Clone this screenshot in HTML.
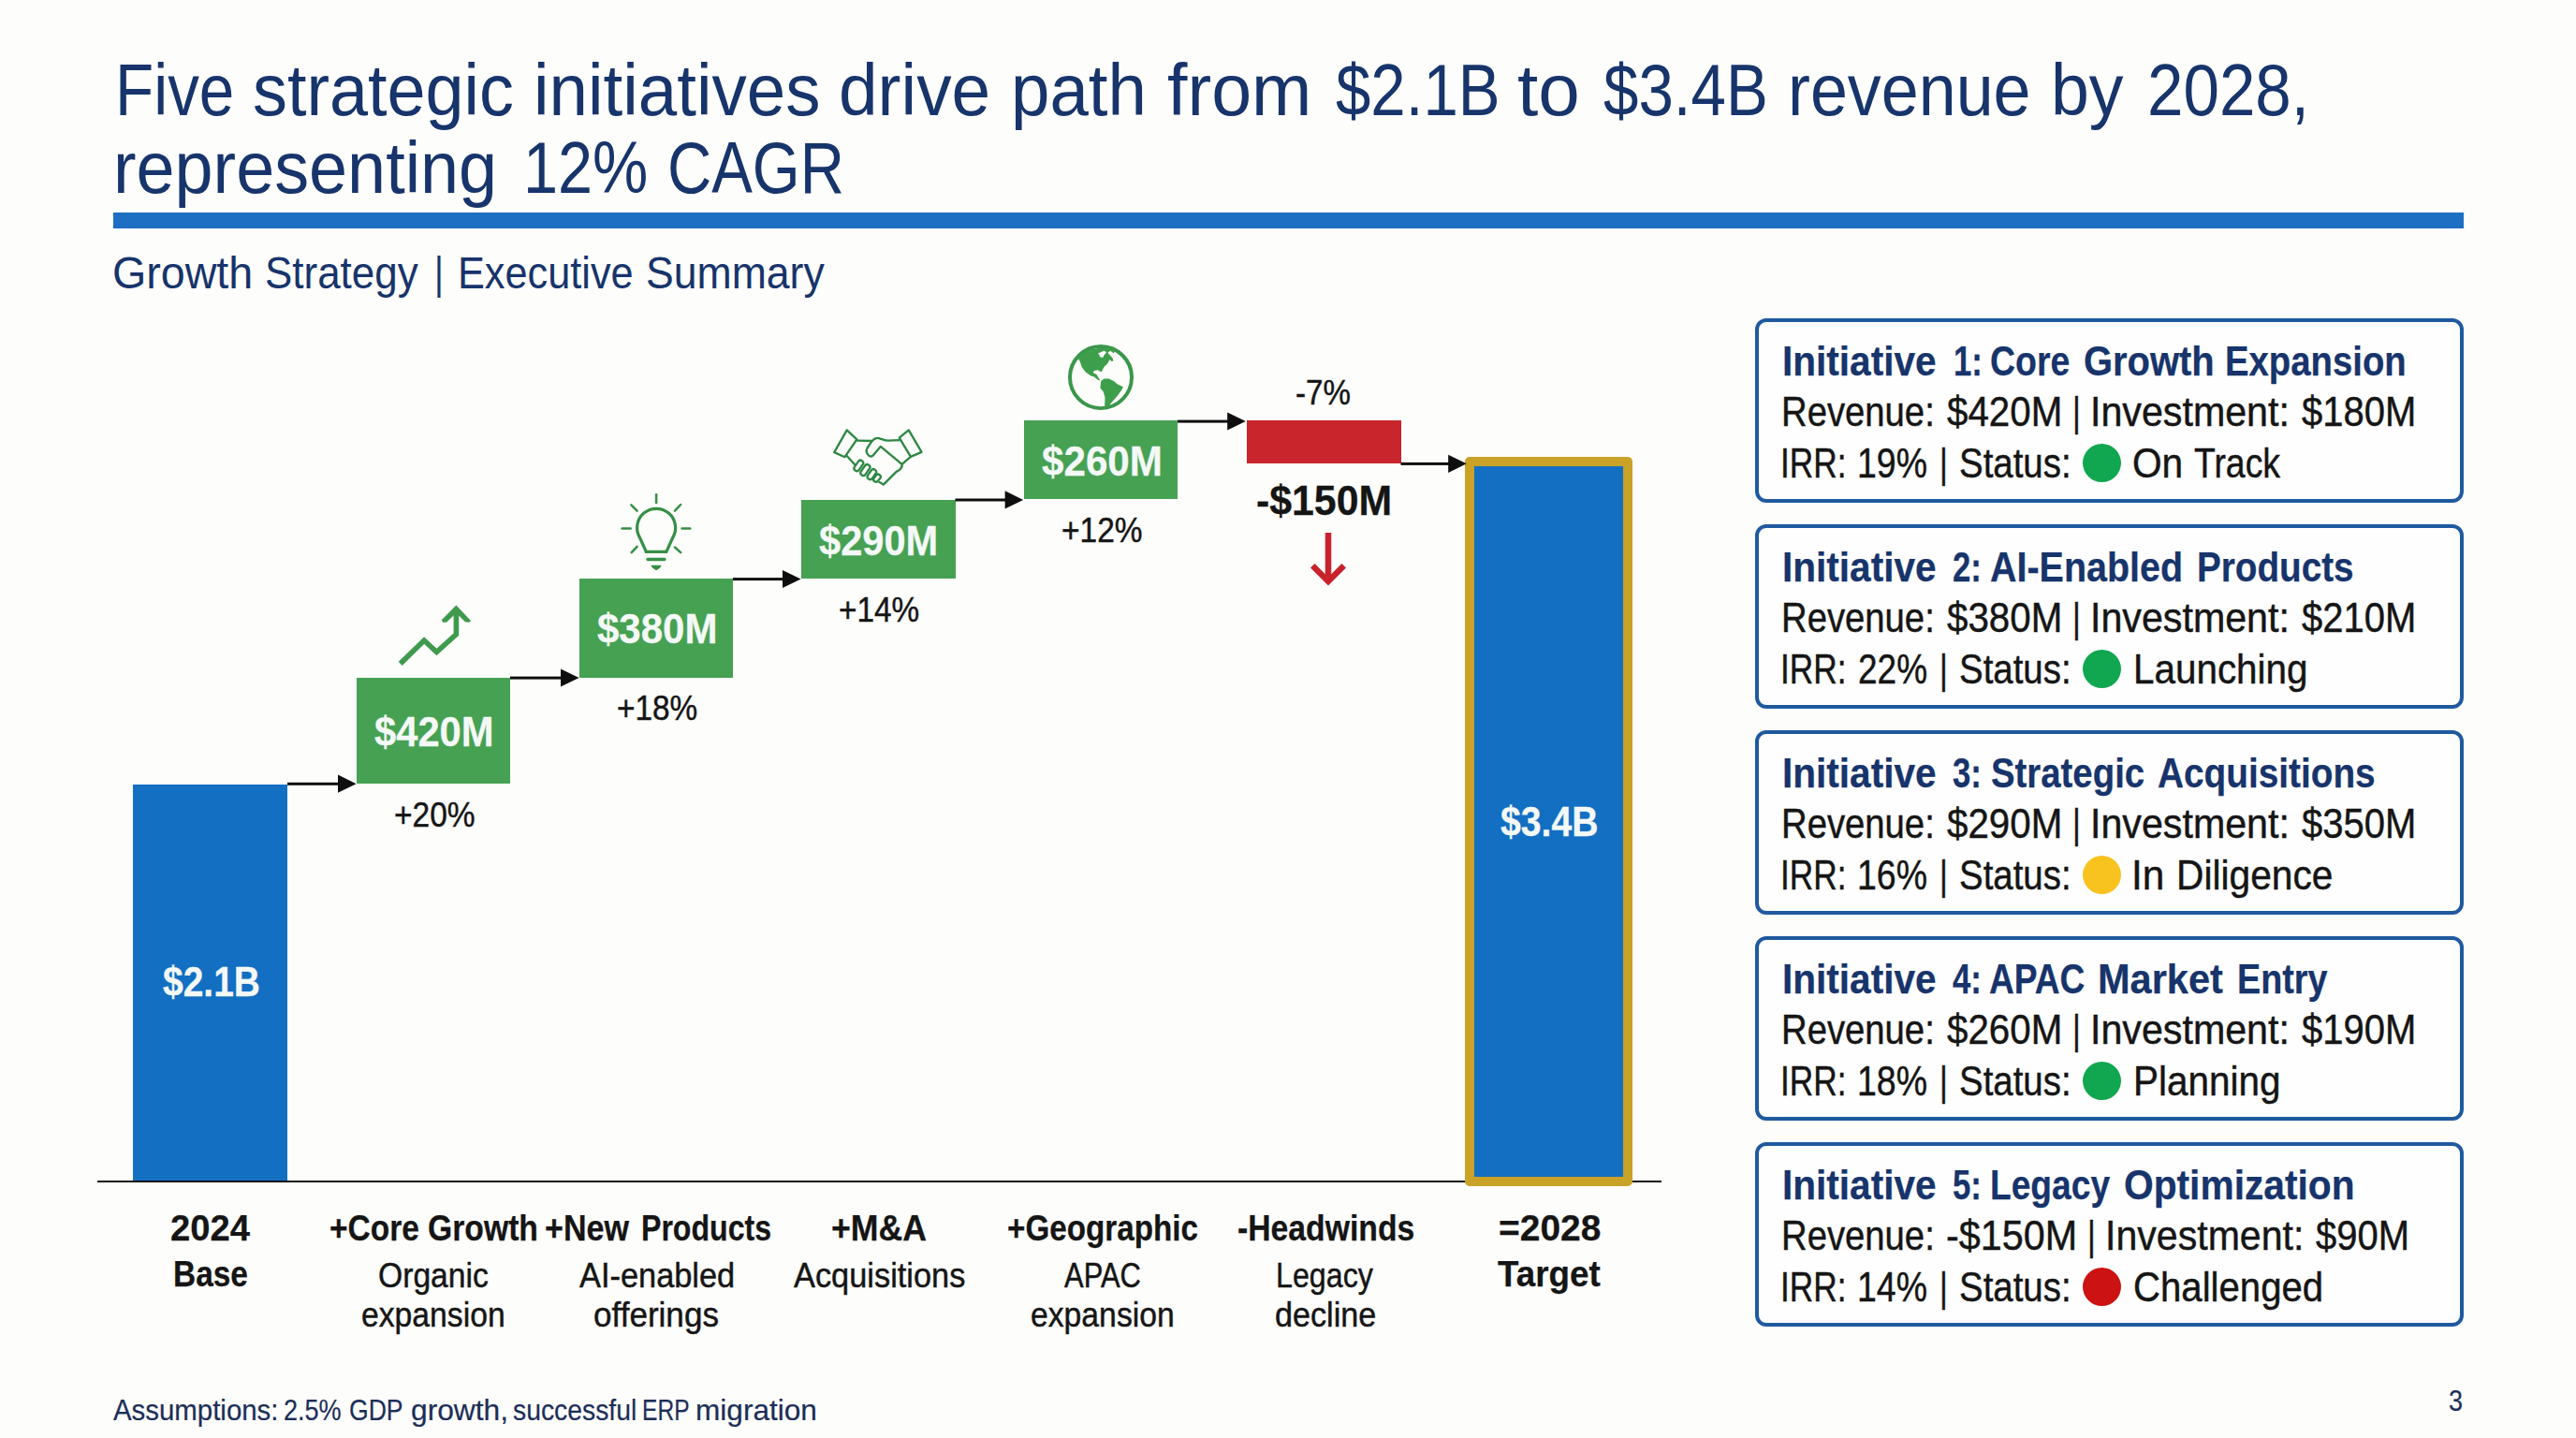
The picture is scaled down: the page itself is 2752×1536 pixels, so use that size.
<!DOCTYPE html>
<html lang="en">
<head>
<meta charset="utf-8">
<title>Growth Strategy | Executive Summary</title>
<style>
html,body{margin:0;padding:0;}
h1,h2,h3,p{margin:0;padding:0;font:inherit;}
body{width:2752px;height:1536px;overflow:hidden;background:#fdfdfb;font-family:"Liberation Sans",Arial,sans-serif;}
#slide{position:relative;width:2752px;height:1536px;overflow:hidden;background:#fdfdfb;}
.t{position:absolute;white-space:nowrap;transform-origin:0 0;margin:0;padding:0;}
.cbody,.sub,.pct{-webkit-text-stroke:0.45px currentColor;}
.val{-webkit-text-stroke:0.3px currentColor;}
.ctitle,.ax{-webkit-text-stroke:0.25px currentColor;}
.foot{-webkit-text-stroke:0.2px currentColor;}
.rule{position:absolute;left:121px;top:227.4px;width:2511.3px;height:16.3px;background:#1c6fc3;}
.bar{position:absolute;}
.blue{background:#136fc2;}
.green{background:#46a153;}
.red{background:#c9252d;}
.axis{position:absolute;left:104px;top:1260.6px;width:1671px;height:2.6px;background:#161616;}
.card{position:absolute;left:1875.2px;width:749.2px;height:189.2px;border:4.6px solid #1f5a9f;border-radius:12px;background:#fefefe;}
.dot{position:absolute;left:2224.5px;width:41px;height:41px;border-radius:50%;}
svg{position:absolute;left:0;top:0;overflow:visible;}
</style>
</head>
<body>
<div id="slide">
<header>
<h1 class="title" style="font-size:78.5px;line-height:78.5px;font-weight:400;color:#17346b"><span class="t" style="left:122.55px;top:56.85px;transform:scaleX(0.8586)">Five</span> <span class="t" style="left:270.22px;top:56.85px;transform:scaleX(0.9399)">strategic</span> <span class="t" style="left:570.15px;top:56.85px;transform:scaleX(0.9496)">initiatives</span> <span class="t" style="left:896.44px;top:56.85px;transform:scaleX(0.9533)">drive</span> <span class="t" style="left:1080.26px;top:56.85px;transform:scaleX(0.9481)">path</span> <span class="t" style="left:1247.02px;top:56.85px;transform:scaleX(0.9835)">from</span> <span class="t" style="left:1427.20px;top:56.85px;transform:scaleX(0.8559)">$2.1B</span> <span class="t" style="left:1621.38px;top:56.85px;transform:scaleX(1.0193)">to</span> <span class="t" style="left:1713.40px;top:56.85px;transform:scaleX(0.8569)">$3.4B</span> <span class="t" style="left:1909.73px;top:56.85px;transform:scaleX(0.9148)">revenue</span> <span class="t" style="left:2191.02px;top:56.85px;transform:scaleX(0.9357)">by</span> <span class="t" style="left:2293.96px;top:56.85px;transform:scaleX(0.8809)">2028,</span></h1>
<h1 class="title" style="font-size:78.5px;line-height:78.5px;font-weight:400;color:#17346b"><span class="t" style="left:121.40px;top:140.05px;transform:scaleX(0.9397)">representing</span> <span class="t" style="left:559.16px;top:140.05px;transform:scaleX(0.8485)">12%</span> <span class="t" style="left:713.10px;top:140.05px;transform:scaleX(0.8331)">CAGR</span></h1>
<h2 class="subtitle" style="font-size:48.5px;line-height:48.5px;font-weight:400;color:#17346b"><span class="t" style="left:120.48px;top:267.34px;transform:scaleX(0.9607)">Growth</span> <span class="t" style="left:282.69px;top:267.34px;transform:scaleX(0.9059)">Strategy</span> <span class="t" style="left:463.83px;top:267.34px;transform:scaleX(0.7800)">|</span> <span class="t" style="left:488.72px;top:267.34px;transform:scaleX(0.8924)">Executive</span> <span class="t" style="left:690.46px;top:267.34px;transform:scaleX(0.9193)">Summary</span></h2>
<div class="rule"></div>
</header>
<section id="waterfall">

<div class="axis"></div>
<!-- waterfall bars -->
<div class="bar blue" style="left:141.8px;top:837.7px;width:165.5px;height:423.7px"></div>
<div class="bar green" style="left:381px;top:724px;width:164.2px;height:113.3px"></div>
<div class="bar green" style="left:619.2px;top:618.4px;width:164.2px;height:105.2px"></div>
<div class="bar green" style="left:856px;top:533.5px;width:164.6px;height:84.6px"></div>
<div class="bar green" style="left:1093.7px;top:449px;width:164.3px;height:84.2px"></div>
<div class="bar red" style="left:1332px;top:449.4px;width:164.7px;height:45.4px"></div>
<div class="bar" style="left:1564.6px;top:487.7px;width:159.6px;height:759px;border:10.5px solid #c9a227;border-radius:5px;background:#136fc2"></div>

<svg width="2752" height="1536" viewBox="0 0 2752 1536">
<!-- connector arrows -->
<g fill="#0e0e0e" stroke="none" transform="translate(0 0.6)">
<rect x="307" y="835.2" width="56" height="3"/><polygon points="361,827 380.6,836.6 361,846.2"/>
<rect x="545" y="722" width="56" height="3"/><polygon points="599,713.8 618.6,723.4 599,733"/>
<rect x="783" y="616.5" width="56" height="3"/><polygon points="836,608.3 855.6,617.9 836,627.5"/>
<rect x="1020.5" y="531.9" width="56" height="3"/><polygon points="1073.6,523.7 1093.2,533.3 1073.6,542.9"/>
<rect x="1258" y="448" width="56" height="3"/><polygon points="1311.2,439.8 1330.8,449.4 1311.2,459"/>
<rect x="1496.5" y="493.3" width="54" height="3"/><polygon points="1547.2,485.1 1566.8,494.7 1547.2,504.3"/>
</g>
<!-- red down arrow -->
<g fill="none" stroke="#c8222d" stroke-width="6.5" stroke-linejoin="miter">
<path d="M1419 569V620"/><path d="M1402.3 604.3L1419 621L1435.7 604.3"/>
</g>
<!-- trend icon -->
<g transform="translate(415 635) scale(0.0591)" fill="none" stroke="#3f9a4e" stroke-width="95" stroke-linejoin="miter">
<path d="M215 1250L645 830L870 1040L1225 720V290"/>
<polygon points="1225,195 1492,478 1455,505 1385,497 1225,335 1050,503 985,503 960,462" fill="#3f9a4e" stroke="none"/>
</g>
<!-- bulb icon -->
<g transform="translate(650 515) scale(0.06954)" fill="none" stroke="#358f46" stroke-linecap="round" stroke-linejoin="round">
<path d="M580 1070L480 850A295 295 0 1 1 990 850L890 1070Z" stroke-width="46" stroke-linejoin="miter"/>
<g stroke-width="36"><path d="M735 190V315"/><path d="M350 350L440 440"/><path d="M1110 345L1020 440"/><path d="M210 712H340"/><path d="M1130 712H1255"/><path d="M355 1080L440 990"/><path d="M1020 1000L1110 1080"/></g>
<path d="M605 1185H860" stroke-width="50"/>
<polygon points="650,1275 815,1275 790,1320 735,1355 680,1320" fill="#358f46" stroke="none"/>
</g>
<!-- handshake icon -->
<g transform="translate(870 440) scale(0.06258)" fill="none" stroke="#2d8743" stroke-width="37" stroke-linejoin="round" stroke-linecap="round">
<path d="M555 310L725 470L520 770L340 690Z"/>
<path d="M1610 310L1830 685L1645 765L1450 440Z"/>
<path d="M740 490L985 495C1020 460 1045 445 1075 445C1110 445 1170 480 1250 490L1450 480"/>
<path d="M985 495L905 615C880 660 890 710 930 745C965 770 990 760 1005 740L1130 590L1490 890"/>
<path d="M1640 770L1500 890C1500 950 1470 990 1400 1020L1180 1240L1110 1200"/>
<path d="M555 750L690 900"/>
<g>
<rect x="-90" y="-45" width="200" height="92" rx="44" transform="translate(750 925) rotate(-55)"/>
<rect x="-100" y="-45" width="210" height="92" rx="44" transform="translate(865 995) rotate(-55)"/>
<rect x="-95" y="-45" width="190" height="92" rx="44" transform="translate(980 1065) rotate(-55)"/>
<rect x="-70" y="-42" width="140" height="84" rx="40" transform="translate(1070 1130) rotate(-50)"/>
</g>
</g>
<!-- globe icon -->
<g transform="translate(1120 355) scale(0.06607)">
<circle cx="848" cy="728" r="500" fill="none" stroke="#3a964b" stroke-width="60"/>
<path fill="#3d9e4b" d="M480 420C560 300 760 220 1080 270L1060 340L1000 300L960 330L1040 420L1050 460L1020 470L990 440L960 500L900 560L860 640L830 630L800 610L740 620L720 650L780 680L800 720L840 780L800 770L740 720L680 700L600 640L540 560L510 470Z M800 340L900 300L940 320L900 370L880 410L840 400L820 360Z" fill-rule="evenodd"/>
<path fill="#3d9e4b" d="M850 790L900 750L980 750L1060 790L1120 840L1210 880L1180 940L1120 1020L1060 1090L1000 1160L960 1215L910 1220L915 1050L890 960L840 900Z"/>
</g>
</svg>
<div class="val" style="font-size:44.5px;line-height:44.5px;font-weight:700;color:#f4f8f6"><span class="t" style="left:173.60px;top:1027.23px;transform:scaleX(0.8758)">$2.1B</span></div>
<div class="val" style="font-size:44.5px;line-height:44.5px;font-weight:700;color:#f4f8f6"><span class="t" style="left:400.00px;top:759.83px;transform:scaleX(0.9373)">$420M</span></div>
<div class="val" style="font-size:44.5px;line-height:44.5px;font-weight:700;color:#f4f8f6"><span class="t" style="left:637.50px;top:649.83px;transform:scaleX(0.9441)">$380M</span></div>
<div class="val" style="font-size:44.5px;line-height:44.5px;font-weight:700;color:#f4f8f6"><span class="t" style="left:875.40px;top:555.73px;transform:scaleX(0.9344)">$290M</span></div>
<div class="val" style="font-size:44.5px;line-height:44.5px;font-weight:700;color:#f4f8f6"><span class="t" style="left:1112.50px;top:470.83px;transform:scaleX(0.9478)">$260M</span></div>
<div class="val" style="font-size:44.5px;line-height:44.5px;font-weight:700;color:#f4f8f6"><span class="t" style="left:1603.00px;top:855.63px;transform:scaleX(0.8800)">$3.4B</span></div>
<div class="val" style="font-size:44.5px;line-height:44.5px;font-weight:700;color:#151515"><span class="t" style="left:1342.24px;top:513.33px;transform:scaleX(0.9620)">-$150M</span></div>
<div class="pct" style="font-size:36.5px;line-height:36.5px;font-weight:400;color:#151515"><span class="t" style="left:420.78px;top:852.80px;transform:scaleX(0.9180)">+20%</span></div>
<div class="pct" style="font-size:36.5px;line-height:36.5px;font-weight:400;color:#151515"><span class="t" style="left:658.69px;top:739.30px;transform:scaleX(0.9137)">+18%</span></div>
<div class="pct" style="font-size:36.5px;line-height:36.5px;font-weight:400;color:#151515"><span class="t" style="left:896.09px;top:634.00px;transform:scaleX(0.9127)">+14%</span></div>
<div class="pct" style="font-size:36.5px;line-height:36.5px;font-weight:400;color:#151515"><span class="t" style="left:1133.58px;top:549.40px;transform:scaleX(0.9170)">+12%</span></div>
<div class="pct" style="font-size:36.5px;line-height:36.5px;font-weight:400;color:#151515"><span class="t" style="left:1384.39px;top:401.90px;transform:scaleX(0.9077)">-7%</span></div>
<div class="ax" style="font-size:39px;line-height:39px;font-weight:700;color:#151515"><span class="t" style="left:182.12px;top:1292.19px;transform:scaleX(0.9783)">2024</span></div>
<div class="ax" style="font-size:39px;line-height:39px;font-weight:700;color:#151515"><span class="t" style="left:184.69px;top:1340.59px;transform:scaleX(0.8570)">Base</span></div>
<div class="ax" style="font-size:39px;line-height:39px;font-weight:700;color:#151515"><span class="t" style="left:351.54px;top:1292.19px;transform:scaleX(0.8587)">+Core</span> <span class="t" style="left:457.14px;top:1292.19px;transform:scaleX(0.8641)">Growth</span></div>
<div class="ax" style="font-size:39px;line-height:39px;font-weight:700;color:#151515"><span class="t" style="left:582.03px;top:1292.19px;transform:scaleX(0.8740)">+New</span> <span class="t" style="left:684.56px;top:1292.19px;transform:scaleX(0.8224)">Products</span></div>
<div class="ax" style="font-size:39px;line-height:39px;font-weight:700;color:#151515"><span class="t" style="left:888.09px;top:1292.19px;transform:scaleX(0.9146)">+M&amp;A</span></div>
<div class="ax" style="font-size:39px;line-height:39px;font-weight:700;color:#151515"><span class="t" style="left:1075.85px;top:1292.19px;transform:scaleX(0.8520)">+Geographic</span></div>
<div class="ax" style="font-size:39px;line-height:39px;font-weight:700;color:#151515"><span class="t" style="left:1321.74px;top:1292.19px;transform:scaleX(0.8648)">-Headwinds</span></div>
<div class="ax" style="font-size:39px;line-height:39px;font-weight:700;color:#151515"><span class="t" style="left:1600.80px;top:1292.19px;transform:scaleX(0.9987)">=2028</span></div>
<div class="ax" style="font-size:39px;line-height:39px;font-weight:700;color:#151515"><span class="t" style="left:1599.80px;top:1340.59px;transform:scaleX(0.9432)">Target</span></div>
<div class="sub" style="font-size:36px;line-height:36px;font-weight:400;color:#151515"><span class="t" style="left:404.07px;top:1344.83px;transform:scaleX(0.9348)">Organic</span></div>
<div class="sub" style="font-size:36px;line-height:36px;font-weight:400;color:#151515"><span class="t" style="left:386.46px;top:1386.93px;transform:scaleX(0.9360)">expansion</span></div>
<div class="sub" style="font-size:36px;line-height:36px;font-weight:400;color:#151515"><span class="t" style="left:618.70px;top:1344.83px;transform:scaleX(0.9546)">AI-enabled</span></div>
<div class="sub" style="font-size:36px;line-height:36px;font-weight:400;color:#151515"><span class="t" style="left:634.03px;top:1386.93px;transform:scaleX(0.9747)">offerings</span></div>
<div class="sub" style="font-size:36px;line-height:36px;font-weight:400;color:#151515"><span class="t" style="left:848.00px;top:1344.83px;transform:scaleX(0.9545)">Acquisitions</span></div>
<div class="sub" style="font-size:36px;line-height:36px;font-weight:400;color:#151515"><span class="t" style="left:1136.50px;top:1344.83px;transform:scaleX(0.8594)">APAC</span></div>
<div class="sub" style="font-size:36px;line-height:36px;font-weight:400;color:#151515"><span class="t" style="left:1100.66px;top:1386.93px;transform:scaleX(0.9367)">expansion</span></div>
<div class="sub" style="font-size:36px;line-height:36px;font-weight:400;color:#151515"><span class="t" style="left:1363.41px;top:1344.83px;transform:scaleX(0.8949)">Legacy</span></div>
<div class="sub" style="font-size:36px;line-height:36px;font-weight:400;color:#151515"><span class="t" style="left:1361.75px;top:1386.93px;transform:scaleX(0.9495)">decline</span></div>
</section>
<aside id="initiatives">
<article class="initiative">
<div class="card" style="top:340.2px"></div>
<div class="dot" style="top:474.3px;background:#11a650"></div>
<h3 class="ctitle" style="font-size:44.5px;line-height:44.5px;font-weight:700;color:#17346b"><span class="t" style="left:1903.58px;top:364.13px;transform:scaleX(0.9118)">Initiative</span> <span class="t" style="left:2086.98px;top:364.13px;transform:scaleX(0.7800)">1:</span> <span class="t" style="left:2126.16px;top:364.13px;transform:scaleX(0.8421)">Core</span> <span class="t" style="left:2225.90px;top:364.13px;transform:scaleX(0.8974)">Growth</span> <span class="t" style="left:2377.38px;top:364.13px;transform:scaleX(0.8608)">Expansion</span></h3>
<p class="cbody" style="font-size:43.5px;line-height:43.5px;font-weight:400;color:#151515"><span class="t" style="left:1902.76px;top:419.48px;transform:scaleX(0.8794)">Revenue:</span> <span class="t" style="left:2079.50px;top:419.48px;transform:scaleX(0.9263)">$420M</span> <span class="t" style="left:2213.51px;top:419.48px;transform:scaleX(0.7800)">|</span> <span class="t" style="left:2232.81px;top:419.48px;transform:scaleX(0.9469)">Investment:</span> <span class="t" style="left:2458.80px;top:419.48px;transform:scaleX(0.9193)">$180M</span></p>
<p class="cbody" style="font-size:43.5px;line-height:43.5px;font-weight:400;color:#151515"><span class="t" style="left:1902.16px;top:473.98px;transform:scaleX(0.8109)">IRR:</span> <span class="t" style="left:1983.82px;top:473.98px;transform:scaleX(0.8611)">19%</span> <span class="t" style="left:2072.11px;top:473.98px;transform:scaleX(0.7800)">|</span> <span class="t" style="left:2093.12px;top:473.98px;transform:scaleX(0.8833)">Status:</span> <span class="t" style="left:2278.03px;top:473.98px;transform:scaleX(0.9343)">On</span> <span class="t" style="left:2344.20px;top:473.98px;transform:scaleX(0.8586)">Track</span></p>
</article>
<article class="initiative">
<div class="card" style="top:560.1px"></div>
<div class="dot" style="top:694.2px;background:#11a650"></div>
<h3 class="ctitle" style="font-size:44.5px;line-height:44.5px;font-weight:700;color:#17346b"><span class="t" style="left:1903.58px;top:584.03px;transform:scaleX(0.9118)">Initiative</span> <span class="t" style="left:2086.27px;top:584.03px;transform:scaleX(0.7800)">2:</span> <span class="t" style="left:2126.11px;top:584.03px;transform:scaleX(0.8865)">AI-Enabled</span> <span class="t" style="left:2346.66px;top:584.03px;transform:scaleX(0.8688)">Products</span></h3>
<p class="cbody" style="font-size:43.5px;line-height:43.5px;font-weight:400;color:#151515"><span class="t" style="left:1902.76px;top:639.38px;transform:scaleX(0.8794)">Revenue:</span> <span class="t" style="left:2079.50px;top:639.38px;transform:scaleX(0.9263)">$380M</span> <span class="t" style="left:2213.51px;top:639.38px;transform:scaleX(0.7800)">|</span> <span class="t" style="left:2232.81px;top:639.38px;transform:scaleX(0.9469)">Investment:</span> <span class="t" style="left:2458.80px;top:639.38px;transform:scaleX(0.9193)">$210M</span></p>
<p class="cbody" style="font-size:43.5px;line-height:43.5px;font-weight:400;color:#151515"><span class="t" style="left:1902.16px;top:693.88px;transform:scaleX(0.8109)">IRR:</span> <span class="t" style="left:1984.70px;top:693.88px;transform:scaleX(0.8509)">22%</span> <span class="t" style="left:2072.11px;top:693.88px;transform:scaleX(0.7800)">|</span> <span class="t" style="left:2093.12px;top:693.88px;transform:scaleX(0.8833)">Status:</span> <span class="t" style="left:2278.51px;top:693.88px;transform:scaleX(0.9291)">Launching</span></p>
</article>
<article class="initiative">
<div class="card" style="top:780.0px"></div>
<div class="dot" style="top:914.1px;background:#f8c21f"></div>
<h3 class="ctitle" style="font-size:44.5px;line-height:44.5px;font-weight:700;color:#17346b"><span class="t" style="left:1903.58px;top:803.93px;transform:scaleX(0.9118)">Initiative</span> <span class="t" style="left:2086.27px;top:803.93px;transform:scaleX(0.7800)">3:</span> <span class="t" style="left:2126.74px;top:803.93px;transform:scaleX(0.8618)">Strategic</span> <span class="t" style="left:2305.03px;top:803.93px;transform:scaleX(0.8714)">Acquisitions</span></h3>
<p class="cbody" style="font-size:43.5px;line-height:43.5px;font-weight:400;color:#151515"><span class="t" style="left:1902.76px;top:859.28px;transform:scaleX(0.8794)">Revenue:</span> <span class="t" style="left:2079.50px;top:859.28px;transform:scaleX(0.9263)">$290M</span> <span class="t" style="left:2213.51px;top:859.28px;transform:scaleX(0.7800)">|</span> <span class="t" style="left:2232.81px;top:859.28px;transform:scaleX(0.9469)">Investment:</span> <span class="t" style="left:2458.80px;top:859.28px;transform:scaleX(0.9193)">$350M</span></p>
<p class="cbody" style="font-size:43.5px;line-height:43.5px;font-weight:400;color:#151515"><span class="t" style="left:1902.16px;top:913.78px;transform:scaleX(0.8109)">IRR:</span> <span class="t" style="left:1983.82px;top:913.78px;transform:scaleX(0.8611)">16%</span> <span class="t" style="left:2072.11px;top:913.78px;transform:scaleX(0.7800)">|</span> <span class="t" style="left:2093.12px;top:913.78px;transform:scaleX(0.8833)">Status:</span> <span class="t" style="left:2277.40px;top:913.78px;transform:scaleX(0.9739)">In</span> <span class="t" style="left:2324.59px;top:913.78px;transform:scaleX(0.9357)">Diligence</span></p>
</article>
<article class="initiative">
<div class="card" style="top:999.9px"></div>
<div class="dot" style="top:1134.0px;background:#11a650"></div>
<h3 class="ctitle" style="font-size:44.5px;line-height:44.5px;font-weight:700;color:#17346b"><span class="t" style="left:1903.58px;top:1023.83px;transform:scaleX(0.9118)">Initiative</span> <span class="t" style="left:2086.36px;top:1023.83px;transform:scaleX(0.7800)">4:</span> <span class="t" style="left:2125.37px;top:1023.83px;transform:scaleX(0.8338)">APAC</span> <span class="t" style="left:2240.83px;top:1023.83px;transform:scaleX(0.9334)">Market</span> <span class="t" style="left:2390.00px;top:1023.83px;transform:scaleX(0.8482)">Entry</span></h3>
<p class="cbody" style="font-size:43.5px;line-height:43.5px;font-weight:400;color:#151515"><span class="t" style="left:1902.76px;top:1079.18px;transform:scaleX(0.8794)">Revenue:</span> <span class="t" style="left:2079.50px;top:1079.18px;transform:scaleX(0.9263)">$260M</span> <span class="t" style="left:2213.51px;top:1079.18px;transform:scaleX(0.7800)">|</span> <span class="t" style="left:2232.81px;top:1079.18px;transform:scaleX(0.9469)">Investment:</span> <span class="t" style="left:2458.80px;top:1079.18px;transform:scaleX(0.9193)">$190M</span></p>
<p class="cbody" style="font-size:43.5px;line-height:43.5px;font-weight:400;color:#151515"><span class="t" style="left:1902.16px;top:1133.68px;transform:scaleX(0.8109)">IRR:</span> <span class="t" style="left:1983.82px;top:1133.68px;transform:scaleX(0.8611)">18%</span> <span class="t" style="left:2072.11px;top:1133.68px;transform:scaleX(0.7800)">|</span> <span class="t" style="left:2093.12px;top:1133.68px;transform:scaleX(0.8833)">Status:</span> <span class="t" style="left:2279.01px;top:1133.68px;transform:scaleX(0.9298)">Planning</span></p>
</article>
<article class="initiative">
<div class="card" style="top:1219.8px"></div>
<div class="dot" style="top:1353.9px;background:#cc1212"></div>
<h3 class="ctitle" style="font-size:44.5px;line-height:44.5px;font-weight:700;color:#17346b"><span class="t" style="left:1903.58px;top:1243.73px;transform:scaleX(0.9118)">Initiative</span> <span class="t" style="left:2086.27px;top:1243.73px;transform:scaleX(0.7800)">5:</span> <span class="t" style="left:2126.43px;top:1243.73px;transform:scaleX(0.8350)">Legacy</span> <span class="t" style="left:2269.18px;top:1243.73px;transform:scaleX(0.9152)">Optimization</span></h3>
<p class="cbody" style="font-size:43.5px;line-height:43.5px;font-weight:400;color:#151515"><span class="t" style="left:1902.76px;top:1299.08px;transform:scaleX(0.8794)">Revenue:</span> <span class="t" style="left:2078.55px;top:1299.08px;transform:scaleX(0.9500)">-$150M</span> <span class="t" style="left:2229.51px;top:1299.08px;transform:scaleX(0.7800)">|</span> <span class="t" style="left:2248.72px;top:1299.08px;transform:scaleX(0.9446)">Investment:</span> <span class="t" style="left:2474.10px;top:1299.08px;transform:scaleX(0.9188)">$90M</span></p>
<p class="cbody" style="font-size:43.5px;line-height:43.5px;font-weight:400;color:#151515"><span class="t" style="left:1902.16px;top:1353.58px;transform:scaleX(0.8109)">IRR:</span> <span class="t" style="left:1983.82px;top:1353.58px;transform:scaleX(0.8611)">14%</span> <span class="t" style="left:2072.11px;top:1353.58px;transform:scaleX(0.7800)">|</span> <span class="t" style="left:2093.12px;top:1353.58px;transform:scaleX(0.8833)">Status:</span> <span class="t" style="left:2278.55px;top:1353.58px;transform:scaleX(0.9231)">Challenged</span></p>
</article>
</aside>
<footer>
<p class="foot" style="font-size:31.5px;line-height:31.5px;font-weight:400;color:#1b2e58"><span class="t" style="left:120.90px;top:1490.54px;transform:scaleX(0.9333)">Assumptions:</span> <span class="t" style="left:303.24px;top:1490.54px;transform:scaleX(0.8583)">2.5%</span> <span class="t" style="left:373.16px;top:1490.54px;transform:scaleX(0.8438)">GDP</span> <span class="t" style="left:438.79px;top:1490.54px;transform:scaleX(1.0076)">growth,</span> <span class="t" style="left:547.90px;top:1490.54px;transform:scaleX(0.8990)">successful</span> <span class="t" style="left:686.40px;top:1490.54px;transform:scaleX(0.7800)">ERP</span> <span class="t" style="left:743.09px;top:1490.54px;transform:scaleX(1.0029)">migration</span></p>
<p class="foot" style="font-size:31.5px;line-height:31.5px;font-weight:400;color:#1b2e58"><span class="t" style="left:2615.94px;top:1481.14px;transform:scaleX(0.8562)">3</span></p>
</footer>
</div>
</body>
</html>
